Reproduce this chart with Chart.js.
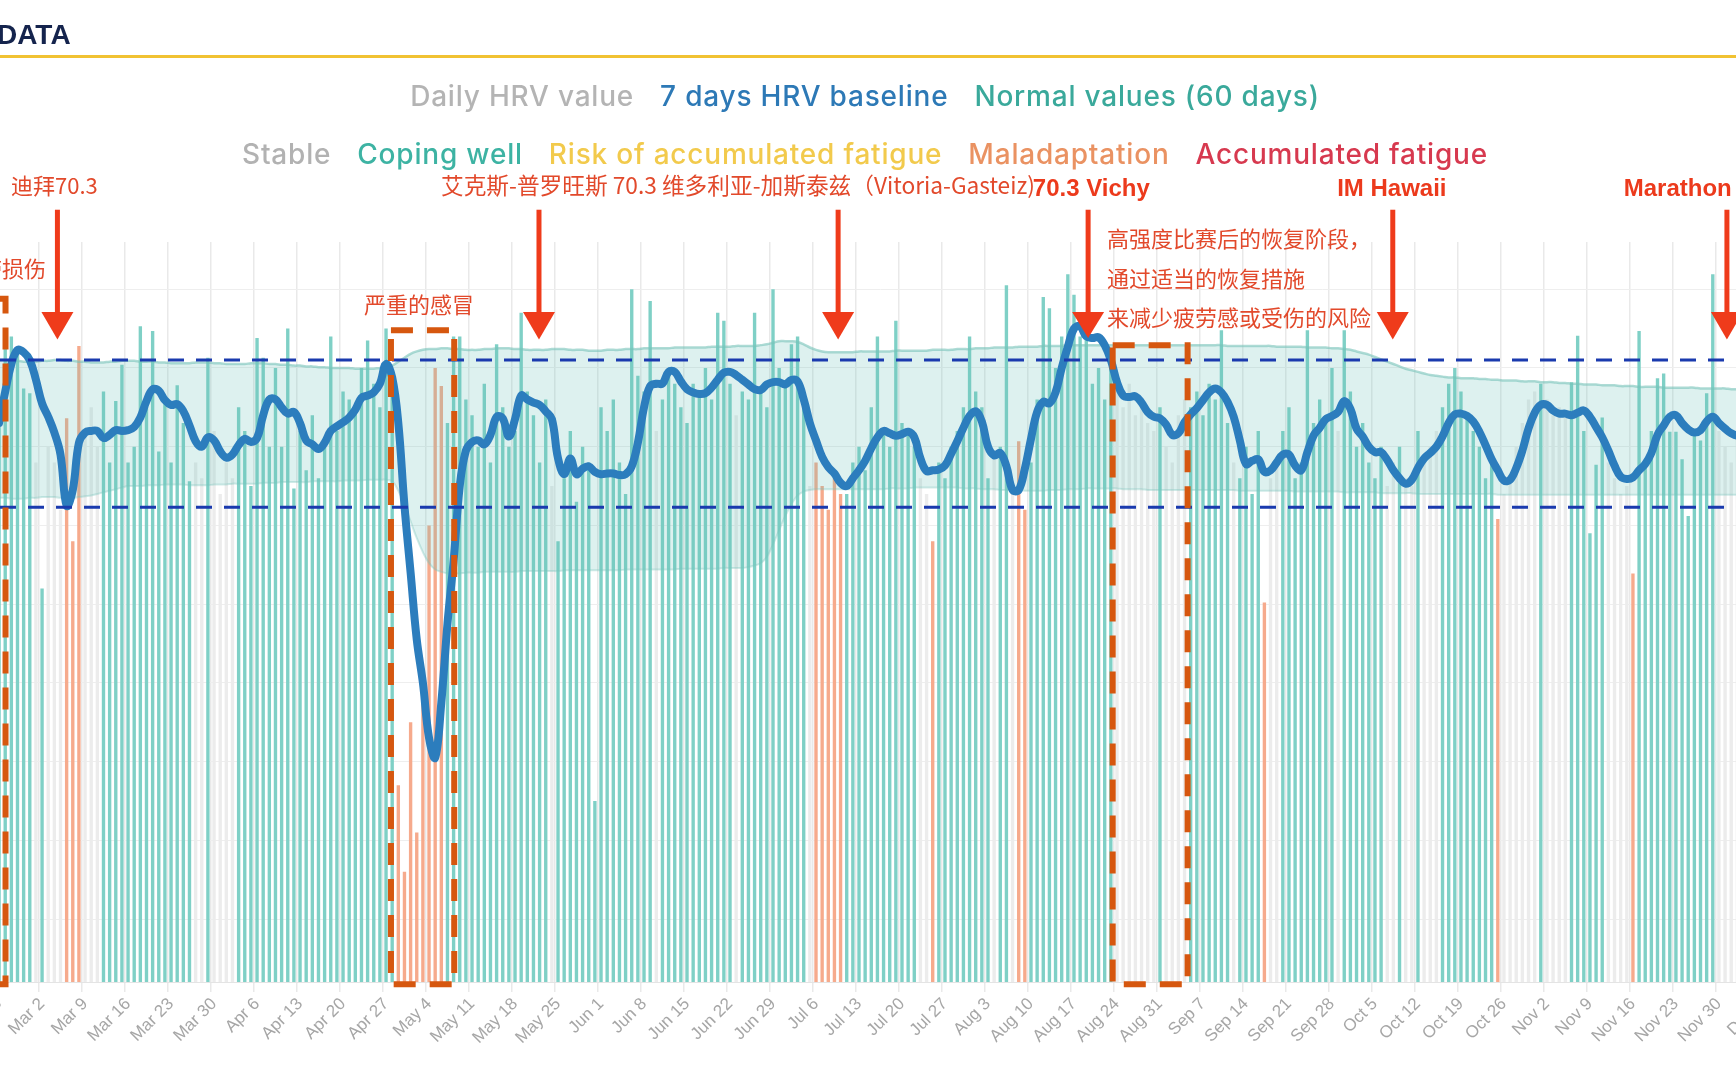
<!DOCTYPE html>
<html>
<head>
<meta charset="utf-8">
<script src="https://cdn.jsdelivr.net/npm/chart.js@4.4.1/dist/chart.umd.min.js"></script>
<style>
  html, body { margin: 0; padding: 0; width: 1736px; height: 1072px; overflow: hidden; background: #fff; }
  body { position: relative; }
  #hrvChart { position: absolute; left: -64px; top: 0; }
  #title { position: absolute; left: -3px; top: 19px; font: 700 28px "Liberation Sans", Arial, sans-serif; color: #15244d; z-index: 2; }
  #rule { position: absolute; left: 0; top: 55px; width: 1736px; height: 3px; background: #f1c232; z-index: 2; }
  .legend { position: absolute; left: 0; width: 1730px; display: flex; justify-content: center; gap: 26px;
            font: 500 28px "Inter", "Open Sans", sans-serif; letter-spacing: 0.8px; white-space: nowrap; z-index: 2; line-height: 36px; }
  #leg1 { top: 78px; }
  #leg2 { top: 136px; }
</style>
</head>
<body>
<canvas id="hrvChart" width="1862" height="1072"></canvas>
<div id="title">DATA</div>
<div id="rule"></div>
<div class="legend" id="leg1">
  <span style="color:#b4b4b4">Daily HRV value</span>
  <span style="color:#2d79b6">7 days HRV baseline</span>
  <span style="color:#3aa99b">Normal values (60 days)</span>
</div>
<div class="legend" id="leg2">
  <span style="color:#b2b2b2">Stable</span>
  <span style="color:#3db3a3">Coping well</span>
  <span style="color:#f2ca4c">Risk of accumulated fatigue</span>
  <span style="color:#ea9262">Maladaptation</span>
  <span style="color:#d7394f">Accumulated fatigue</span>
</div>
<script>
// one value per day, first day 2022-02-23
const firstDay = Date.UTC(2022, 1, 23);
const monthNames = ['Jan', 'Feb', 'Mar', 'Apr', 'May', 'Jun', 'Jul', 'Aug', 'Sep', 'Oct', 'Nov', 'Dec'];

// daily HRV value
const hrvDaily = [
  95, 103, 104, 102, 97.4, 96.8, 88, 72, 90, 88, 82, 93.6,
  78, 102.8, 92, 95, 90, 97, 88, 95.8, 100.4, 88, 90, 105.3,
  95, 104.7, 89.4, 96, 88, 97.8, 93, 85.6, 88, 86, 101.3, 92,
  84, 88, 86, 95, 92, 85, 103.8, 101.3, 90, 100, 90, 105,
  84.7, 92, 87, 94, 86, 90, 104, 92, 97, 96, 95, 100,
  103.5, 98, 95, 105, 99, 47, 36, 55, 41, 61, 80, 100,
  97.7, 93, 104, 104, 96, 94, 90, 98, 88, 103, 95, 90,
  92, 107, 97, 94, 88, 96, 85, 78, 86, 92, 83, 90,
  88, 45, 95, 92, 96, 88, 84, 110, 99, 97, 108.5, 92,
  96, 100, 98, 95, 93, 98, 97, 100, 96, 107, 106, 98,
  94, 97, 96, 107, 97, 95, 110, 100, 98, 103, 104, 95,
  85, 88, 85, 82, 86, 84, 84, 88, 90, 87, 95, 104,
  92, 90, 106, 93, 92, 90, 86, 84, 78, 88, 86, 90,
  92, 95, 104, 97, 95, 86, 89, 90, 110.5, 85, 90.7, 82,
  88, 96, 109, 107.6, 100, 104, 111.9, 109.3, 104, 107, 98, 100,
  96, 100.5, 97, 95, 98, 94, 96, 93, 92, 95, 90, 88,
  94, 96, 95, 97, 94, 98, 96, 104.8, 93, 88, 86, 90,
  84, 92, 70.2, 86, 88, 92, 95, 86, 88, 104.8, 93, 96,
  94, 100, 92, 104.8, 97, 90, 93, 88, 86, 90, 85, 88,
  90, 86, 85, 92, 88, 90, 92, 95, 98, 100, 97, 94,
  92, 90, 86, 88, 80.8, 84, 86, 90, 93, 96, 97, 98,
  96, 94, 95, 94, 98.2, 104.1, 92, 79, 87.7, 93.7, 88, 86,
  84, 85, 73.9, 104.7, 87.5, 92, 98.7, 99.3, 91.9, 91.9, 88.4, 81.2,
  91.4, 90.8, 96.8, 111.9, 92, 90, 88, 92, 94, 92, 90, 93
];

// s = stable, c = coping well, r = risk, m = maladaptation, a = accumulated fatigue (one week per string)
const hrvStatus = [
  'ccccccs', 'csssmmm', 'ssscccc', 'ccccccc', 'ccccssc', 'ssssccc', 'ccccccc',
  'ccccccc', 'ccccccc', 'ccmmmmm', 'mmmcccc', 'ccccccc', 'ccccccs', 'ccccccc',
  'ccccccc', 'ccscccc', 'ccccccc', 'csccccc', 'ccccccs', 'mmmmmcc', 'ccccccc',
  'cccssmc', 'ccccccc', 'csccsmm', 'ccccccc', 'ccccccc', 'sssssss', 'csssscc',
  'cccccsc', 'cccmssc', 'ccccccc', 'csccccc', 'ccsscss', 'csssccc', 'ccccccm',
  'ssssssc', 'ssssccc', 'cccssss', 'mcccccc', 'ccccccc', 'sssssss', 's'
].join('').split('');

// 7 days HRV baseline
const baseline7 = [
  93, 97, 100.5, 102.3, 102, 101, 98.5, 95.5, 93.8, 91.8, 89, 82.5,
  84.5, 90.5, 91.8, 92, 92, 91.1, 91.5, 92.1, 92, 92.1, 92.5, 93.7,
  95.8, 97.3, 97.1, 95.9, 95.3, 95.4, 94.5, 92.7, 90.7, 90, 91.2, 90.8,
  89.4, 88.6, 89, 90.2, 91, 90.6, 91.1, 94, 96, 96, 95, 94.2,
  94.4, 93, 90.8, 90.3, 89.7, 90.5, 92, 92.6, 93.1, 93.7, 94.7, 96.2,
  96.5, 96.9, 98, 100.5, 98.8, 93, 82.5, 74, 65.5, 60, 53, 50.5,
  57.5, 67.5, 75.5, 85, 89.5, 90.6, 90.8, 90.3, 91.5, 93.8, 93.6, 91.3,
  93.5, 96.5, 96, 95.6, 95.3, 94.5, 93.5, 88.5, 86.5, 88.5, 86.5, 87.2,
  87.5, 86.8, 86.5, 86.6, 86.6, 86.4, 86.5, 87.5, 90.5, 95, 97.7, 98,
  98, 99.5, 99.5, 98.3, 97.3, 96.9, 96.7, 96.8, 97.5, 98.5, 99.4, 99.5,
  99.1, 98.5, 97.9, 97.3, 97.2, 97.9, 98.2, 98.2, 97.9, 98.5, 98.3, 96,
  93, 90.8, 88.7, 87.4, 86.6, 85.4, 85, 86, 87, 88.2, 89.8, 91.2,
  92, 91.7, 91.4, 91.6, 91.9, 91.2, 88.5, 86.9, 87, 87.1, 87.6, 89.1,
  90.7, 92.4, 93.9, 94.5, 93.2, 90, 88.9, 89.2, 87.5, 84.5, 84.5, 87.2,
  91, 94.4, 95.7, 95.5, 96.9, 100, 102.7, 105, 105.3, 104, 103.8, 103.9,
  102.9, 101, 98.2, 96.5, 96.3, 96.4, 95.6, 94.4, 93.8, 93.6, 92.8, 91.5,
  91.7, 93.1, 94.1, 94.9, 95.9, 96.9, 97.4, 96.9, 95.7, 93.8, 90.8, 87.8,
  88.2, 88.4, 86.8, 87, 88, 89, 89, 87.6, 87, 89.3, 91.4, 92.4,
  93.5, 93.9, 94.4, 95.8, 94.8, 92.3, 91.3, 90, 89.3, 89.3, 88.3, 87,
  86, 85.3, 85.8, 87.3, 88.5, 89.2, 90, 91.3, 93, 94.1, 94.2, 93.9,
  93.2, 91.9, 90.2, 88.4, 87, 85.7, 85.8, 87.3, 89.5, 92.3, 94.3, 95.3,
  95.3, 94.6, 94.2, 94.2, 94, 94.3, 94.6, 93.8, 92.5, 91.2, 89.5, 87.6,
  86.2, 85.9, 86.1, 87, 87.8, 89.2, 91.5, 92.7, 93.8, 94, 93, 92.2,
  91.8, 92.1, 93.2, 93.8, 93, 92.3, 91.7, 91.4, 91.5, 91.8, 92, 92
];

// normal values (60 days), upper edge
const normalHigh = [
  101.0, 101.0, 100.9, 100.9, 100.8, 100.8, 100.8, 100.9, 100.9, 101.0, 101.0, 100.9,
  100.9, 100.8, 100.8, 100.7, 100.7, 100.7, 100.8, 100.8, 100.9, 100.9, 100.9, 100.8,
  100.8, 100.8, 100.7, 100.7, 100.6, 100.6, 100.6, 100.6, 100.7, 100.7, 100.7, 100.6,
  100.6, 100.5, 100.5, 100.5, 100.5, 100.6, 100.6, 100.6, 100.5, 100.5, 100.4, 100.4,
  100.3, 100.3, 100.2, 100.2, 100.1, 100.1, 100.0, 100.0, 100.0, 100.0, 99.9, 99.9,
  99.9, 99.9, 100.0, 100.0, 100.3, 100.8, 101.3, 101.8, 102.1, 102.3, 102.4, 102.4,
  102.5, 102.5, 102.4, 102.4, 102.3, 102.3, 102.3, 102.4, 102.4, 102.5, 102.5, 102.5,
  102.4, 102.4, 102.3, 102.3, 102.3, 102.3, 102.4, 102.4, 102.4, 102.3, 102.3, 102.3,
  102.2, 102.2, 102.2, 102.3, 102.3, 102.3, 102.4, 102.4, 102.4, 102.5, 102.5, 102.5,
  102.5, 102.5, 102.6, 102.6, 102.6, 102.6, 102.6, 102.6, 102.7, 102.7, 102.7, 102.7,
  102.8, 102.8, 102.8, 102.8, 102.9, 103.0, 103.2, 103.4, 103.4, 103.4, 103.3, 103.0,
  102.6, 102.3, 102.1, 102.0, 102.0, 102.0, 102.0, 102.0, 102.1, 102.1, 102.1, 102.1,
  102.1, 102.1, 102.2, 102.2, 102.2, 102.2, 102.2, 102.2, 102.3, 102.3, 102.3, 102.3,
  102.4, 102.4, 102.4, 102.5, 102.5, 102.5, 102.6, 102.6, 102.6, 102.6, 102.7, 102.7,
  102.7, 102.7, 102.8, 102.8, 102.8, 102.8, 102.9, 102.9, 102.9, 102.9, 102.9, 102.9,
  102.9, 102.9, 102.9, 102.9, 102.9, 102.9, 102.9, 102.9, 102.9, 102.9, 102.9, 102.9,
  102.9, 102.9, 102.9, 102.9, 102.9, 102.9, 102.9, 102.9, 102.8, 102.8, 102.8, 102.8,
  102.8, 102.8, 102.8, 102.8, 102.7, 102.7, 102.7, 102.7, 102.7, 102.6, 102.6, 102.6,
  102.6, 102.5, 102.5, 102.4, 102.3, 102.1, 101.9, 101.7, 101.4, 101.1, 100.8, 100.5,
  100.2, 99.9, 99.7, 99.5, 99.3, 99.1, 99.0, 98.9, 98.8, 98.8, 98.7, 98.7,
  98.7, 98.6, 98.6, 98.5, 98.5, 98.4, 98.4, 98.4, 98.3, 98.3, 98.3, 98.2,
  98.2, 98.2, 98.1, 98.1, 98.0, 98.0, 97.9, 97.9, 97.9, 97.8, 97.8, 97.8,
  97.7, 97.7, 97.7, 97.6, 97.6, 97.6, 97.6, 97.5, 97.5, 97.5, 97.5, 97.5,
  97.5, 97.4, 97.4, 97.4, 97.4, 97.4, 97.3, 97.3, 97.3, 97.3, 97.3, 97.3
];

// normal values (60 days), lower edge
const normalLow = [
  83.5, 83.5, 83.4, 83.4, 83.4, 83.5, 83.5, 83.6, 83.6, 83.6, 83.5, 83.5,
  83.5, 83.6, 83.7, 83.8, 84.0, 84.2, 84.4, 84.6, 84.8, 85.0, 85.0, 85.0,
  85.1, 85.1, 85.1, 85.2, 85.2, 85.2, 85.2, 85.1, 85.1, 85.1, 85.1, 85.2,
  85.2, 85.2, 85.3, 85.3, 85.3, 85.3, 85.3, 85.4, 85.4, 85.4, 85.5, 85.5,
  85.5, 85.5, 85.5, 85.6, 85.6, 85.6, 85.6, 85.6, 85.7, 85.7, 85.7, 85.7,
  85.8, 85.8, 85.8, 85.8, 85.6, 84.4, 82.6, 80.5, 78.4, 76.6, 75.2, 74.4,
  74.1, 73.9, 73.9, 73.9, 74.0, 74.0, 74.0, 74.1, 74.1, 74.1, 74.1, 74.1,
  74.1, 74.2, 74.2, 74.2, 74.2, 74.2, 74.2, 74.2, 74.3, 74.3, 74.3, 74.3,
  74.3, 74.3, 74.3, 74.3, 74.3, 74.3, 74.4, 74.4, 74.4, 74.4, 74.4, 74.4,
  74.4, 74.4, 74.4, 74.5, 74.5, 74.5, 74.5, 74.5, 74.5, 74.5, 74.6, 74.6,
  74.6, 74.6, 74.7, 74.9, 75.2, 76.0, 77.6, 79.4, 81.2, 82.7, 83.8, 84.3,
  84.5, 84.6, 84.6, 84.6, 84.6, 84.6, 84.6, 84.6, 84.6, 84.6, 84.6, 84.6,
  84.6, 84.7, 84.7, 84.7, 84.7, 84.8, 84.8, 84.8, 84.8, 84.8, 84.8, 84.8,
  84.8, 84.7, 84.7, 84.7, 84.6, 84.6, 84.6, 84.5, 84.5, 84.5, 84.5, 84.4,
  84.4, 84.4, 84.4, 84.5, 84.5, 84.5, 84.6, 84.6, 84.6, 84.7, 84.7, 84.7,
  84.7, 84.7, 84.7, 84.6, 84.6, 84.6, 84.6, 84.5, 84.5, 84.5, 84.5, 84.5,
  84.5, 84.5, 84.5, 84.5, 84.5, 84.5, 84.5, 84.5, 84.5, 84.5, 84.4, 84.4,
  84.4, 84.4, 84.4, 84.4, 84.4, 84.4, 84.4, 84.3, 84.3, 84.3, 84.3, 84.3,
  84.3, 84.3, 84.3, 84.2, 84.2, 84.2, 84.2, 84.2, 84.2, 84.1, 84.1, 84.1,
  84.1, 84.1, 84.1, 84.0, 84.0, 84.0, 84.0, 84.0, 84.0, 84.0, 84.0, 84.0,
  84.0, 84.0, 84.0, 84.0, 83.9, 83.9, 83.9, 83.9, 83.9, 83.9, 83.9, 83.9,
  83.9, 83.9, 83.9, 83.9, 83.9, 83.9, 83.9, 83.9, 83.9, 83.9, 83.9, 83.9,
  83.9, 83.9, 83.9, 83.9, 83.9, 83.9, 83.9, 83.9, 83.9, 83.9, 83.9, 83.9,
  83.9, 83.9, 83.9, 83.9, 83.9, 83.9, 83.9, 83.9, 83.9, 83.9, 83.9, 83.9
];

const yGridValues = [30, 40, 50, 60, 70, 80, 90, 100, 110];

const statusColors = { s: '#ececec', c: '#7fd0c6', r: '#f3cd55', m: '#f6aa8c', a: '#dc3b4f' };

// hand-drawn notes on top of the chart, placed in day / HRV units
const refLines = [101.0, 82.3];
const boxes = [
  { from: -6, to: 1.05, top: 108.8 },
  { from: 63.8, to: 74.1, top: 104.8 },
  { from: 181.3, to: 193.5, top: 102.9 }
];
const boxBottom = 21.7;
const arrows = [
  { day: 9.5, tip: 103.6 },
  { day: 87.9, tip: 103.6 },
  { day: 136.6, tip: 103.6 },
  { day: 177.3, tip: 103.8 },
  { day: 226.9, tip: 103.6 },
  { day: 281.3, tip: 103.6 }
];
const arrowTop = 120.1;
const arrowHead = 107.1;
const notes = [
  { text: '迪拜70.3', day: 1.94, v: 123.2, align: 'left', kind: 'cn', size: 22 },
  { text: '韧带损伤', day: 7.64, v: 112.6, align: 'right', kind: 'cn', size: 22 },
  { text: '严重的感冒', day: 68.36, v: 108.0, align: 'center', kind: 'cn', size: 22 },
  { text: '艾克斯-普罗旺斯 70.3 维多利亚-加斯泰兹（Vitoria-Gasteiz)', day: 71.94, v: 123.2, align: 'left', kind: 'cn', size: 22.7 },
  { text: '70.3 Vichy', day: 168.3, v: 122.7, align: 'left', kind: 'en', size: 24 },
  { text: '高强度比赛后的恢复阶段，', day: 180.36, v: 116.4, align: 'left', kind: 'cn', size: 22 },
  { text: '通过适当的恢复措施', day: 180.36, v: 111.4, align: 'left', kind: 'cn', size: 22 },
  { text: '来减少疲劳感或受伤的风险', day: 180.36, v: 106.35, align: 'left', kind: 'cn', size: 22 },
  { text: 'IM Hawaii', day: 226.75, v: 122.7, align: 'center', kind: 'en', size: 24 },
  { text: 'Marathon', day: 264.5, v: 122.7, align: 'left', kind: 'en', size: 24 }
];

const dayLabels = hrvDaily.map((v, i) => {
  const d = new Date(firstDay + i * 86400000);
  return monthNames[d.getUTCMonth()] + ' ' + d.getUTCDate();
});

const overlayPlugin = {
  id: 'overlay',
  afterDraw(chart) {
    const { ctx, scales: { x, y } } = chart;
    const px = d => x.getPixelForValue(d);
    const py = v => y.getPixelForValue(v);
    ctx.save();

    ctx.strokeStyle = '#1a3aae';
    ctx.lineWidth = 3;
    ctx.setLineDash([16, 12]);
    refLines.forEach(v => {
      ctx.beginPath();
      ctx.moveTo(64, py(v));
      ctx.lineTo(chart.width, py(v));
      ctx.stroke();
    });

    ctx.strokeStyle = '#d6570f';
    ctx.lineWidth = 6;
    ctx.setLineDash([22, 14]);
    boxes.forEach(b => {
      ctx.strokeRect(px(b.from), py(b.top), px(b.to) - px(b.from), py(boxBottom) - py(b.top));
    });

    ctx.setLineDash([]);
    ctx.strokeStyle = '#ef3b1b';
    ctx.fillStyle = '#ef3b1b';
    arrows.forEach(a => {
      const ax = px(a.day);
      ctx.lineWidth = 5;
      ctx.beginPath();
      ctx.moveTo(ax, py(arrowTop));
      ctx.lineTo(ax, py(arrowHead) + 2);
      ctx.stroke();
      ctx.beginPath();
      ctx.moveTo(ax - 16, py(arrowHead));
      ctx.lineTo(ax + 16, py(arrowHead));
      ctx.lineTo(ax, py(a.tip));
      ctx.closePath();
      ctx.fill();
    });

    ctx.textBaseline = 'middle';
    notes.forEach(n => {
      if (n.kind === 'cn') {
        ctx.font = n.size + 'px "Noto Sans CJK SC"';
        ctx.fillStyle = '#e2492b';
      } else {
        ctx.font = 'bold ' + n.size + 'px "Liberation Sans"';
        ctx.fillStyle = '#ec3a1c';
      }
      ctx.textAlign = n.align;
      ctx.fillText(n.text, px(n.day), py(n.v));
    });
    ctx.restore();
  }
};

const ctx = document.getElementById('hrvChart').getContext('2d');
new Chart(ctx, {
  type: 'bar',
  data: {
    labels: dayLabels,
    datasets: [
      {
        type: 'line',
        label: '7 days HRV baseline',
        data: baseline7,
        borderColor: '#2c7dbd',
        borderWidth: 8,
        pointRadius: 0,
        tension: 0.4,
        borderCapStyle: 'round',
        borderJoinStyle: 'round',
        order: 1
      },
      {
        type: 'line',
        label: 'Normal low',
        data: normalLow,
        borderColor: 'rgba(120,195,185,0.35)',
        borderWidth: 2,
        pointRadius: 0,
        tension: 0.4,
        fill: false,
        order: 2
      },
      {
        type: 'line',
        label: 'Normal values (60 days)',
        data: normalHigh,
        borderColor: 'rgba(120,195,185,0.6)',
        borderWidth: 2.5,
        pointRadius: 0,
        tension: 0.4,
        fill: '-1',
        backgroundColor: 'rgba(100,190,180,0.22)',
        order: 2
      },
      {
        type: 'bar',
        label: 'Daily HRV value',
        data: hrvDaily,
        backgroundColor: hrvStatus.map(s => statusColors[s]),
        barPercentage: 0.55,
        categoryPercentage: 1,
        order: 3
      }
    ]
  },
  options: {
    responsive: false,
    devicePixelRatio: 1,
    animation: false,
    layout: { padding: { left: 60, right: 33, top: 242, bottom: 0 } },
    plugins: {
      legend: { display: false },
      tooltip: { enabled: false }
    },
    scales: {
      x: {
        offset: true,
        grid: {
          offset: true,
          color: c => (c.index % 7 === 0 ? '#e9e9e9' : 'rgba(0,0,0,0)'),
          lineWidth: 1.5,
          tickLength: 10
        },
        border: { color: '#e4e4e4' },
        ticks: {
          autoSkip: false,
          minRotation: 45,
          maxRotation: 45,
          padding: 2,
          color: '#a6a6a6',
          font: { family: 'Liberation Sans', size: 17 },
          callback: (v, i) => (i % 7 === 0 ? dayLabels[i] : '')
        },
        afterFit: s => { s.height = 90; }
      },
      y: {
        min: 22,
        max: 116,
        afterBuildTicks: s => { s.ticks = yGridValues.map(v => ({ value: v })); },
        ticks: { display: false },
        grid: { color: '#eeeeee', drawTicks: false },
        border: { display: false },
        afterFit: s => { s.width = 0; }
      }
    }
  },
  plugins: [overlayPlugin]
});
</script>
</body>
</html>
